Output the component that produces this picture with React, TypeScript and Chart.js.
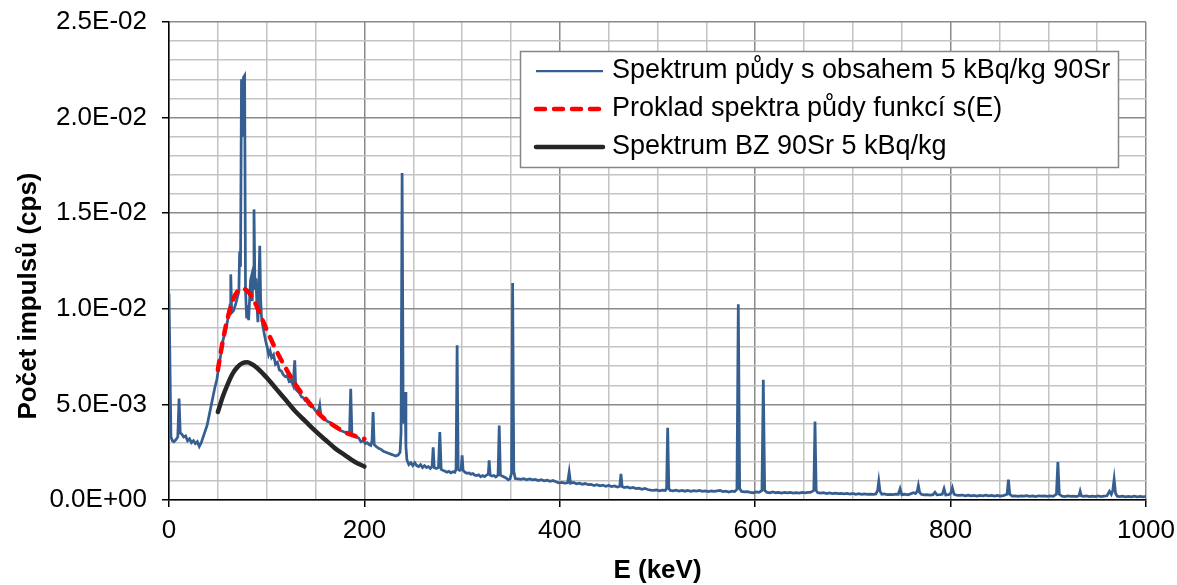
import React, { useEffect, useRef } from "react";
import { Chart, registerables } from "chart.js";

Chart.register(...registerables);

const FONT = '"Liberation Sans", Arial, sans-serif';

// ---------- DATA ----------
const xTitle = "E (keV)";
const yTitle = "Počet impulsů (cps)";
const legendLabels = [
  "Spektrum půdy s obsahem 5 kBq/kg 90Sr",
  "Proklad spektra půdy funkcí s(E)",
  "Spektrum BZ 90Sr 5 kBq/kg",
];

// measured spectrum (energy keV, cps)
const spectrumE = [
  0, 0.8, 2, 3.5, 5, 7, 9, 10.3, 11.5, 13, 15, 17, 19, 21, 23, 25, 27, 29, 31, 33, 35, 37, 39, 41, 43, 45, 47, 49,
  51, 53, 55, 57, 59, 61, 62.5, 63.2, 64.2, 66, 68, 70, 71.5, 72.3, 73.2, 74.2, 75.2, 76.2, 77.4, 78.3, 79.5, 80.5,
  81.5, 82.5, 83.5, 84.4, 85.2, 86, 87, 88, 89, 90, 91, 92, 92.9, 93.8, 94.6, 96, 97.5, 99, 100.5, 102, 103.5, 105,
  107, 109, 111, 113, 115, 117, 119, 121, 123, 125, 127, 128.7, 129.8, 131.5, 133.5, 135.5, 137.5, 139.5, 141.5,
  143.5, 145.5, 147.5, 149.5, 151.5, 153.5, 154.3, 155.5, 157.5, 160, 162.5, 165, 167.5, 170, 172.5, 175, 177.5,
  180, 182.5, 184.8, 186, 187.2, 189, 191.5, 194, 196.5, 199, 201, 203, 204.8, 206.5, 207.8, 208.9, 210, 212,
  214.5, 217, 219.5, 222, 224.5, 227, 229.5, 232, 234.5, 236.5, 237.5, 238.6, 239.7, 240.6, 241.6, 242.5, 243.5,
  245.5, 247.5, 249.5, 251.5, 253.5, 255.5, 257.5, 259.5, 261.5, 263.5, 265.5, 267.5, 269.3, 270.4, 271.5, 273.5,
  275.8, 277.2, 278.6, 280.5, 282.5, 284.5, 286.5, 288.5, 290.5, 292.5, 293.8, 294.9, 296, 297.5, 299, 300, 301,
  303, 305, 307, 309, 311, 313, 315, 317, 319, 321, 323, 325, 326.8, 327.7, 328.7, 330.5, 332.5, 334.5, 336.8,
  338, 339.2, 341, 343, 345, 347.2, 349, 350.6, 351.7, 352.9, 354.4, 357, 360, 363, 366, 369, 372, 375, 378, 381,
  384, 387, 390, 393, 396, 399, 402, 405, 408, 409.6, 411, 414, 417, 420, 423, 426, 429, 432, 435, 438, 441, 444,
  447, 450, 453, 456, 459, 461.4, 462.6, 463.8, 466, 469, 472, 475, 478, 481, 484, 487, 490, 493, 496, 499, 502,
  505, 508, 509.3, 510.4, 511.6, 513, 516, 519, 522, 525, 528, 531, 534, 537, 540, 543, 546, 549, 552, 555, 558,
  561, 564, 567, 570, 573, 576, 579, 581.3, 582.7, 584.1, 586, 589, 592, 595, 598, 601, 604, 606.9, 608.3, 609.7,
  612, 615, 618, 621, 624, 627, 630, 633, 636, 639, 642, 645, 648, 651, 654, 656.5, 660, 661.2, 662.4, 664, 667,
  670, 673, 676, 679, 682, 685, 688, 691, 694, 697, 700, 703, 706, 709, 712, 715, 718, 721, 723.5, 725.3, 726.5,
  727.8, 729.5, 732, 735, 738, 741, 744, 746.5, 748.3, 750, 753, 756, 759, 762, 764, 765.8, 767, 768.3, 770, 773,
  776, 779, 782, 784, 786, 789, 791.5, 793.3, 795, 798, 800, 801.8, 803.5, 806, 809, 812, 815, 818, 821, 824, 827,
  830, 833, 836, 839, 842, 845, 848, 851, 854, 857.8, 859.2, 860.6, 863, 866, 869, 872, 875, 878, 881, 884, 887,
  890, 893, 896, 899, 902, 905, 908.3, 909.8, 911.3, 914, 917, 920, 923, 926, 929, 931.5, 932.6, 933.8, 936, 939,
  942, 945, 948, 951, 954, 957, 960, 962.6, 964.5, 966, 967.4, 968.8, 970.5, 973, 976, 979, 982, 985, 988, 991,
  994, 997, 1000,
];
const spectrumCps = [
  10.8e-3, 10.8e-3, 3.3e-3, 3.1e-3, 3.05e-3, 3.15e-3, 3.3e-3, 5.3e-3, 3.5e-3, 3.45e-3, 3.3e-3, 3.35e-3, 3.1e-3,
  3.2e-3, 3.0e-3, 3.1e-3, 2.95e-3, 3.05e-3, 2.8e-3, 3.0e-3, 3.3e-3, 3.6e-3, 3.9e-3, 4.4e-3, 4.9e-3, 5.4e-3,
  5.9e-3, 6.3e-3, 7.0e-3, 7.6e-3, 8.3e-3, 8.7e-3, 9.1e-3, 9.7e-3, 10.2e-3, 11.8e-3, 9.8e-3, 9.9e-3, 10.2e-3,
  10.6e-3, 10.9e-3, 13.0e-3, 12.2e-3, 22.0e-3, 19.0e-3, 22.1e-3, 22.2e-3, 11.0e-3, 9.5e-3, 10.2e-3, 9.4e-3,
  10.5e-3, 11.5e-3, 11.7e-3, 10.4e-3, 12.0e-3, 15.2e-3, 11.0e-3, 11.6e-3, 10.2e-3, 9.3e-3, 11.3e-3, 13.3e-3,
  10.5e-3, 9.6e-3, 9.1e-3, 8.7e-3, 8.3e-3, 8.0e-3, 7.6e-3, 7.8e-3, 7.45e-3, 7.6e-3, 7.1e-3, 7.2e-3, 6.8e-3,
  6.75e-3, 6.55e-3, 6.45e-3, 6.5e-3, 6.2e-3, 6.25e-3, 6.0e-3, 7.3e-3, 5.8e-3, 5.7e-3, 5.6e-3, 5.4e-3, 5.35e-3,
  5.2e-3, 5.15e-3, 4.95e-3, 4.9e-3, 4.85e-3, 4.7e-3, 4.6e-3, 4.75e-3, 4.95e-3, 4.4e-3, 4.35e-3, 4.2e-3, 4.1e-3,
  4.05e-3, 3.95e-3, 3.8e-3, 3.75e-3, 3.65e-3, 3.6e-3, 3.55e-3, 3.45e-3, 3.5e-3, 5.82e-3, 3.45e-3, 3.35e-3,
  3.3e-3, 3.25e-3, 3.05e-3, 3.1e-3, 2.95e-3, 3.0e-3, 2.9e-3, 2.85e-3, 3.1e-3, 4.6e-3, 2.9e-3, 2.8e-3, 2.7e-3,
  2.65e-3, 2.55e-3, 2.5e-3, 2.45e-3, 2.4e-3, 2.35e-3, 2.3e-3, 2.35e-3, 2.5e-3, 3.5e-3, 17.1e-3, 4.3e-3, 4.0e-3,
  5.65e-3, 2.8e-3, 2.1e-3, 1.85e-3, 1.95e-3, 1.8e-3, 1.95e-3, 1.8e-3, 1.75e-3, 1.85e-3, 1.7e-3, 1.8e-3, 1.7e-3,
  1.75e-3, 1.65e-3, 1.75e-3, 2.76e-3, 1.7e-3, 1.65e-3, 1.7e-3, 3.55e-3, 1.6e-3, 1.55e-3, 1.5e-3, 1.45e-3, 1.5e-3,
  1.42e-3, 1.48e-3, 1.45e-3, 1.6e-3, 8.09e-3, 1.6e-3, 1.55e-3, 1.6e-3, 2.33e-3, 1.55e-3, 1.45e-3, 1.4e-3,
  1.42e-3, 1.35e-3, 1.38e-3, 1.3e-3, 1.28e-3, 1.32e-3, 1.22e-3, 1.28e-3, 1.22e-3, 1.3e-3, 1.35e-3, 2.07e-3,
  1.3e-3, 1.25e-3, 1.28e-3, 1.2e-3, 1.3e-3, 3.9e-3, 1.3e-3, 1.25e-3, 1.2e-3, 1.15e-3, 1.05e-3, 1.1e-3, 1.4e-3,
  11.35e-3, 1.5e-3, 1.12e-3, 1.1e-3, 1.08e-3, 1.12e-3, 1.06e-3, 1.1e-3, 1.05e-3, 1.08e-3, 1.02e-3, 1.06e-3,
  1.0e-3, 1.04e-3, 0.98e-3, 1.02e-3, 0.95e-3, 0.9e-3, 0.92e-3, 0.88e-3, 0.9e-3, 1.46e-3, 0.88e-3, 0.92e-3,
  0.85e-3, 0.88e-3, 0.82e-3, 0.86e-3, 0.8e-3, 0.82e-3, 0.76e-3, 0.8e-3, 0.74e-3, 0.78e-3, 0.72e-3, 0.76e-3,
  0.7e-3, 0.74e-3, 0.68e-3, 0.72e-3, 1.37e-3, 0.7e-3, 0.65e-3, 0.68e-3, 0.62e-3, 0.66e-3, 0.6e-3, 0.62e-3,
  0.56e-3, 0.6e-3, 0.55e-3, 0.52e-3, 0.5e-3, 0.53e-3, 0.48e-3, 0.52e-3, 0.5e-3, 0.6e-3, 3.78e-3, 0.6e-3, 0.5e-3,
  0.48e-3, 0.52e-3, 0.47e-3, 0.5e-3, 0.46e-3, 0.5e-3, 0.45e-3, 0.49e-3, 0.46e-3, 0.5e-3, 0.45e-3, 0.48e-3,
  0.44e-3, 0.47e-3, 0.45e-3, 0.48e-3, 0.5e-3, 0.44e-3, 0.46e-3, 0.42e-3, 0.46e-3, 0.44e-3, 0.55e-3, 10.24e-3,
  0.6e-3, 0.45e-3, 0.42e-3, 0.44e-3, 0.4e-3, 0.38e-3, 0.42e-3, 0.4e-3, 0.5e-3, 6.29e-3, 0.5e-3, 0.4e-3, 0.38e-3,
  0.42e-3, 0.38e-3, 0.4e-3, 0.36e-3, 0.4e-3, 0.37e-3, 0.4e-3, 0.36e-3, 0.39e-3, 0.36e-3, 0.4e-3, 0.37e-3, 0.4e-3,
  0.4e-3, 0.5e-3, 4.11e-3, 0.5e-3, 0.38e-3, 0.36e-3, 0.38e-3, 0.34e-3, 0.37e-3, 0.34e-3, 0.36e-3, 0.33e-3,
  0.35e-3, 0.32e-3, 0.34e-3, 0.31e-3, 0.34e-3, 0.3e-3, 0.33e-3, 0.3e-3, 0.32e-3, 0.29e-3, 0.31e-3, 0.3e-3,
  0.32e-3, 0.5e-3, 0.98e-3, 0.45e-3, 0.3e-3, 0.32e-3, 0.28e-3, 0.3e-3, 0.28e-3, 0.31e-3, 0.3e-3, 0.59e-3,
  0.28e-3, 0.3e-3, 0.27e-3, 0.32e-3, 0.38e-3, 0.34e-3, 0.45e-3, 0.76e-3, 0.4e-3, 0.3e-3, 0.27e-3, 0.28e-3,
  0.25e-3, 0.28e-3, 0.41e-3, 0.27e-3, 0.28e-3, 0.3e-3, 0.59e-3, 0.26e-3, 0.28e-3, 0.35e-3, 0.64e-3, 0.3e-3,
  0.26e-3, 0.24e-3, 0.26e-3, 0.22e-3, 0.25e-3, 0.22e-3, 0.24e-3, 0.21e-3, 0.24e-3, 0.22e-3, 0.25e-3, 0.22e-3,
  0.24e-3, 0.2e-3, 0.24e-3, 0.21e-3, 0.23e-3, 0.3e-3, 1.06e-3, 0.3e-3, 0.2e-3, 0.22e-3, 0.19e-3, 0.22e-3, 0.2e-3,
  0.23e-3, 0.19e-3, 0.21e-3, 0.18e-3, 0.22e-3, 0.2e-3, 0.22e-3, 0.19e-3, 0.21e-3, 0.19e-3, 0.3e-3, 1.98e-3,
  0.3e-3, 0.2e-3, 0.18e-3, 0.21e-3, 0.19e-3, 0.2e-3, 0.18e-3, 0.24e-3, 0.46e-3, 0.22e-3, 0.19e-3, 0.21e-3,
  0.18e-3, 0.2e-3, 0.18e-3, 0.21e-3, 0.18e-3, 0.2e-3, 0.22e-3, 0.46e-3, 0.3e-3, 0.5e-3, 1.09e-3, 0.35e-3, 0.2e-3,
  0.18e-3, 0.2e-3, 0.17e-3, 0.19e-3, 0.17e-3, 0.2e-3, 0.17e-3, 0.19e-3, 0.17e-3, 0.19e-3,
];

// fit s(E)
const fitE = [50, 55, 60, 65, 70, 75, 80, 85, 90, 95, 100, 110, 120, 130, 140, 150, 160, 170, 180, 190, 200];
const fitCps = [
  6.8e-3, 8.3e-3, 9.5e-3, 10.4e-3, 10.9e-3, 11.05e-3, 10.95e-3, 10.6e-3, 10.1e-3, 9.5e-3, 8.9e-3, 7.8e-3,
  6.85e-3, 6.0e-3, 5.3e-3, 4.7e-3, 4.2e-3, 3.85e-3, 3.55e-3, 3.35e-3, 3.2e-3,
];

// BZ 90Sr spectrum
const bzE = [50, 55, 60, 65, 70, 75, 80, 85, 90, 100, 110, 120, 130, 140, 150, 160, 170, 180, 190, 200];
const bzCps = [
  4.6e-3, 5.4e-3, 6.05e-3, 6.6e-3, 6.95e-3, 7.15e-3, 7.2e-3, 7.1e-3, 6.92e-3, 6.4e-3, 5.8e-3, 5.2e-3, 4.6e-3,
  4.1e-3, 3.6e-3, 3.15e-3, 2.7e-3, 2.35e-3, 2.0e-3, 1.75e-3,
];

const xMin = 0;
const xMax = 1000;
const xStep = 50;
const xLabelStep = 200;
const yMin = 0;
const yMax = 0.025;
const yStep = 0.001;
const yLabelEvery = 5;

// ---------- styles ----------
const BLUE = "#365F91";
const RED = "#FF0000";
const BLACK = "#262626";

function sci(v: number): string {
  if (Math.abs(v) < 1e-12) return "0.0E+00";
  let e = Math.floor(Math.log10(Math.abs(v)) + 1e-9);
  let m = v / Math.pow(10, e);
  if (Math.round(m * 10) / 10 >= 10) {
    m /= 10;
    e += 1;
  }
  const s = e < 0 ? "-" : "+";
  return m.toFixed(1) + "E" + s + String(Math.abs(e)).padStart(2, "0");
}

const pts = (xs: number[], ys: number[]) => xs.map((x, i) => ({ x, y: ys[i] }));

const zeroPad = (s: any) => {
  s.paddingTop = 0;
  s.paddingBottom = 0;
  s.paddingLeft = 0;
  s.paddingRight = 0;
};

const overlayPlugin = {
  id: "overlay",
  afterDraw(chart: any) {
    const c = chart.ctx as CanvasRenderingContext2D;
    const area = chart.chartArea;
    c.save();
    // legend
    const lx = 520.5, ly = 51.5, lw = 598, lh = 116;
    c.fillStyle = "#ffffff";
    c.fillRect(lx, ly, lw, lh);
    c.strokeStyle = "#868686";
    c.lineWidth = 1.5;
    c.strokeRect(lx, ly, lw, lh);
    const rows = [71, 109, 147];
    const styles = [
      { color: BLUE, width: 2.25, dash: [] as number[], cap: "butt" },
      { color: RED, width: 4.5, dash: [9, 9], cap: "round" },
      { color: BLACK, width: 4.5, dash: [] as number[], cap: "round" },
    ];
    rows.forEach((y, i) => {
      const st = styles[i];
      c.beginPath();
      c.strokeStyle = st.color;
      c.lineWidth = st.width;
      c.setLineDash(st.dash);
      c.lineCap = st.cap as CanvasLineCap;
      c.moveTo(536, y);
      c.lineTo(603, y);
      c.stroke();
      c.setLineDash([]);
      c.fillStyle = "#000";
      c.font = `27px ${FONT}`;
      c.textAlign = "left";
      c.textBaseline = "middle";
      c.fillText(legendLabels[i], 612, y);
    });
    // axis titles
    c.fillStyle = "#000";
    c.font = `bold 26px ${FONT}`;
    c.textAlign = "center";
    c.textBaseline = "middle";
    c.fillText(xTitle, (area.left + area.right) / 2, 571);
    c.translate(29, 296);
    c.rotate(-Math.PI / 2);
    c.fillText(yTitle, 0, 0);
    c.restore();
  },
};

export default function App() {
  const ref = useRef<HTMLCanvasElement | null>(null);
  useEffect(() => {
    if (!ref.current) return;
    const chart = new Chart(ref.current, {
      type: "line",
      data: {
        datasets: [
          {
            label: legendLabels[0],
            data: pts(spectrumE, spectrumCps),
            borderColor: BLUE,
            borderWidth: 2.75,
            pointRadius: 0,
            tension: 0,
            order: 3,
          },
          {
            label: legendLabels[1],
            data: pts(fitE, fitCps),
            borderColor: RED,
            borderWidth: 4.5,
            borderDash: [9, 9],
            borderCapStyle: "round",
            pointRadius: 0,
            cubicInterpolationMode: "monotone",
            order: 2,
          },
          {
            label: legendLabels[2],
            data: pts(bzE, bzCps),
            borderColor: BLACK,
            borderWidth: 4.5,
            borderCapStyle: "round",
            pointRadius: 0,
            cubicInterpolationMode: "monotone",
            order: 1,
          },
        ],
      },
      options: {
        responsive: true,
        maintainAspectRatio: false,
        animation: false,
        layout: { padding: { top: 22, right: 31, left: 0, bottom: 0 } },
        plugins: { legend: { display: false }, tooltip: { enabled: false }, title: { display: false } },
        scales: {
          x: {
            type: "linear",
            min: xMin,
            max: xMax,
            afterFit: (s: any) => {
              s.height = 85;
              zeroPad(s);
            },
            ticks: {
              stepSize: xStep,
              autoSkip: false,
              maxRotation: 0,
              minRotation: 0,
              padding: 8,
              color: "#000",
              font: { size: 26, family: FONT },
              callback: (v: any) => (Math.round(v) % xLabelStep === 0 ? String(Math.round(v)) : ""),
            },
            grid: {
              color: (ctx: any) =>
                ctx.tick && Math.round(ctx.tick.value) % xLabelStep === 0 ? "#8a8a8a" : "#c3c3c3",
              lineWidth: 1.5,
              tickLength: 7,
              tickWidth: 1.5,
              tickColor: (ctx: any) =>
                ctx.tick && Math.round(ctx.tick.value) % xLabelStep === 0 ? "#000" : "rgba(0,0,0,0)",
            },
            border: { color: "#000", width: 1.5 },
          },
          y: {
            type: "linear",
            min: yMin,
            max: yMax,
            afterFit: (s: any) => {
              s.width = 169;
              zeroPad(s);
            },
            ticks: {
              stepSize: yStep,
              autoSkip: false,
              padding: 15,
              color: "#000",
              font: { size: 26, family: FONT },
              callback: (v: any) => {
                const k = Math.round(Number(v) / yStep);
                return k % yLabelEvery === 0 ? sci(k * yStep) : "";
              },
            },
            grid: {
              color: (ctx: any) =>
                ctx.tick && Math.round(ctx.tick.value / yStep) % yLabelEvery === 0 ? "#8a8a8a" : "#c3c3c3",
              lineWidth: 1.5,
              tickLength: 7,
              tickWidth: 1.5,
              tickColor: (ctx: any) =>
                ctx.tick && Math.round(ctx.tick.value / yStep) % yLabelEvery === 0 ? "#000" : "rgba(0,0,0,0)",
            },
            border: { color: "#000", width: 1.5 },
          },
        },
      },
      plugins: [overlayPlugin],
    });
    return () => chart.destroy();
  }, []);

  return (
    <div style={{ position: "fixed", left: 0, top: 0, width: 1177, height: 585, background: "#fff" }}>
      <canvas ref={ref} />
    </div>
  );
}
